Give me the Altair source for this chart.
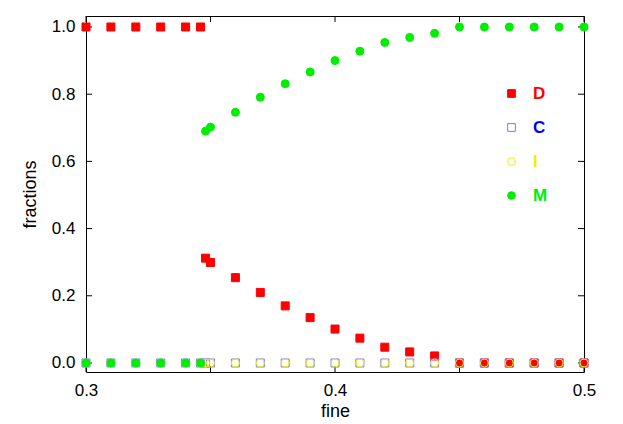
import altair as alt
import pandas as pd

fine = [0.30, 0.31, 0.32, 0.33, 0.34, 0.346, 0.348, 0.35, 0.36, 0.37, 0.38, 0.39,
        0.40, 0.41, 0.42, 0.43, 0.44, 0.45, 0.46, 0.47, 0.48, 0.49, 0.50]
frac_D = [1, 1, 1, 1, 1, 1, 0.312, 0.299, 0.254, 0.210, 0.170, 0.135,
          0.101, 0.074, 0.047, 0.033, 0.021, 0, 0, 0, 0, 0, 0]
frac_C = [0] * len(fine)
frac_I = [0] * len(fine)
frac_M = [0, 0, 0, 0, 0, 0, 0.690, 0.702, 0.746, 0.791, 0.831, 0.866,
          0.900, 0.928, 0.954, 0.969, 0.981, 1, 1, 1, 1, 1, 1]

series = ["D", "C", "I", "M"]
fills = ["#ff0000", "transparent", "transparent", "#00ee00"]
strokes = ["#ff0000", "#7777ff", "#eeee00", "#00ee00"]
shapes = ["square", "square", "circle", "circle"]
label_colors = {"D": "#ff0000", "C": "#0000ff", "I": "#eeee00", "M": "#00ee00"}

x_ticks = [0.30, 0.35, 0.40, 0.45, 0.50]
x_labels = [0.3, 0.4, 0.5]
y_ticks = [0.0, 0.2, 0.4, 0.6, 0.8, 1.0]

rows = []
for name, vals in zip(series, [frac_D, frac_C, frac_I, frac_M]):
    for xv, yv in zip(fine, vals):
        rows.append({"series": name, "fine": xv, "fractions": yv})
df = pd.DataFrame(rows)

W, H = 498, 356
xscale = alt.Scale(domain=[0.3, 0.5], nice=False, zero=False)
yscale = alt.Scale(domain=[-0.0268, 1.0327], nice=False, zero=False)

lab_expr = " : ".join(
    [f"datum.label == '{k}' ? '{v}'" for k, v in label_colors.items()]) + " : 'black'"
legend = alt.Legend(
    title=None, orient="none", legendX=417, legendY=69, padding=0,
    labelFont="Liberation Sans", labelFontSize=17, labelFontWeight="bold",
    labelColor={"expr": lab_expr}, labelOffset=13, rowPadding=16,
    symbolSize=60, symbolStrokeWidth=1,
)

points = alt.Chart(df).mark_point(size=64, strokeWidth=1, opacity=1).encode(
    x=alt.X("fine:Q", scale=xscale,
            axis=alt.Axis(values=x_labels, format=".1f", title="fine")),
    y=alt.Y("fractions:Q", scale=yscale,
            axis=alt.Axis(values=y_ticks, format=".1f", title="fractions")),
    shape=alt.Shape("series:N", scale=alt.Scale(domain=series, range=shapes), legend=legend),
    fill=alt.Fill("series:N", scale=alt.Scale(domain=series, range=fills), legend=legend),
    stroke=alt.Stroke("series:N", scale=alt.Scale(domain=series, range=strokes), legend=legend),
    order=alt.Order("idx:Q"),
).transform_window(idx="row_number()")

xt = pd.DataFrame({"t": x_ticks})
yt = pd.DataFrame({"t": y_ticks})
tick_bottom = alt.Chart(xt).mark_rule(color="black", strokeWidth=1).encode(
    x=alt.X("t:Q", scale=xscale), y=alt.value(H), y2=alt.value(H - 6))
tick_top = alt.Chart(xt).mark_rule(color="black", strokeWidth=1).encode(
    x=alt.X("t:Q", scale=xscale), y=alt.value(0), y2=alt.value(6))
tick_left = alt.Chart(yt).mark_rule(color="black", strokeWidth=1).encode(
    y=alt.Y("t:Q", scale=yscale), x=alt.value(0), x2=alt.value(6))
tick_right = alt.Chart(yt).mark_rule(color="black", strokeWidth=1).encode(
    y=alt.Y("t:Q", scale=yscale), x=alt.value(W), x2=alt.value(W - 6))

chart = alt.layer(tick_bottom, tick_top, tick_left, tick_right, points).properties(
    width=W, height=H,
    autosize=alt.AutoSizeParams(type="none"),
    padding={"left": 78, "top": 8, "right": 25, "bottom": 50},
).configure_view(stroke="black", strokeWidth=1).configure_axis(
    grid=False, domain=False, ticks=False, tickSize=0,
    labelFont="Liberation Sans", labelFontSize=17, labelColor="black",
    titleFont="Liberation Sans", titleFontSize=18, titleFontWeight="normal",
    titleColor="black", labelFlush=False,
).configure_axisX(labelPadding=10, titlePadding=4).configure_axisY(
    labelPadding=11, titlePadding=12)

chart.save("out.html", embed_options={"renderer": "svg", "actions": False})
